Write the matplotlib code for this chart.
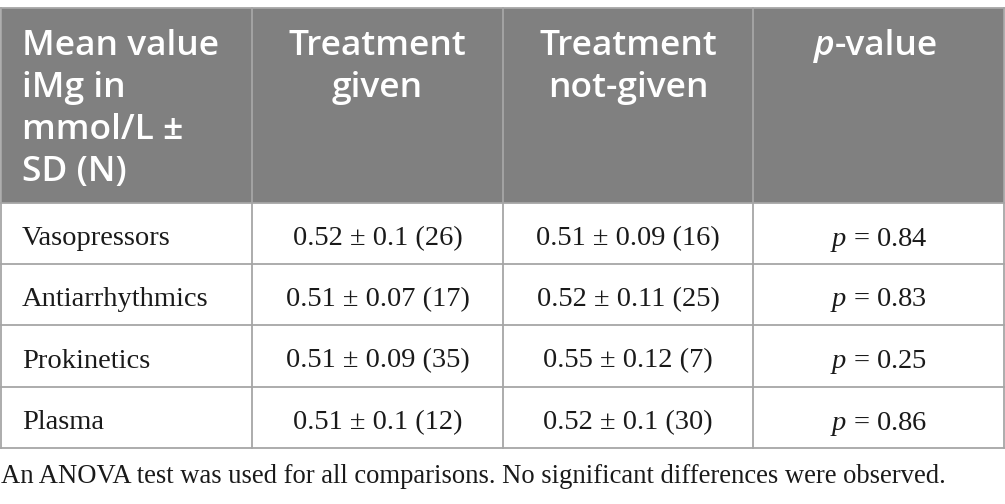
import matplotlib.pyplot as plt
from matplotlib.lines import Line2D

plt.rcParams["mathtext.fontset"] = "custom"
plt.rcParams["mathtext.it"] = "Liberation Serif:italic"
plt.rcParams["mathtext.rm"] = "Liberation Serif"

headers = [["Mean value", "iMg in", "mmol/L \u00b1", "SD (N)"],
           ["Treatment", "given"],
           ["Treatment", "not-given"]]
drugs = ["Vasopressors", "Antiarrhythmics", "Prokinetics", "Plasma"]
given = ["0.52 \u00b1 0.1 (26)", "0.51 \u00b1 0.07 (17)", "0.51 \u00b1 0.09 (35)", "0.51 \u00b1 0.1 (12)"]
not_given = ["0.51 \u00b1 0.09 (16)", "0.52 \u00b1 0.11 (25)", "0.55 \u00b1 0.12 (7)", "0.52 \u00b1 0.1 (30)"]
p_values = [0.84, 0.83, 0.25, 0.86]
footnote = "An ANOVA test was used for all comparisons. No significant differences were observed."

W, H = 1005, 504
fig = plt.figure(figsize=(W / 100, H / 100), dpi=100)
ax = fig.add_axes([0, 0, 1, 1])
ax.set_xlim(0, W)
ax.set_ylim(H, 0)
ax.axis("off")

col_x = [1, 252, 503, 753, 1004]
row_y = [8, 203, 264, 325, 387, 448]
grid_c = "#a6a6a6"
head_bg = "#808080"

# header background
ax.add_patch(plt.Rectangle((col_x[0], row_y[0]), col_x[-1] - col_x[0], row_y[1] - row_y[0],
                           facecolor=head_bg, edgecolor="none"))

# grid lines
for y in row_y:
    ax.add_line(Line2D([col_x[0], col_x[-1]], [y, y], color=grid_c, lw=1.3))
for x in col_x:
    ax.add_line(Line2D([x, x], [row_y[0], row_y[-1]], color=grid_c, lw=1.3))

hfont = dict(family="Open Sans", weight="semibold", size=25.5, color="white")
base0, step = 55, 42
for k, line in enumerate(headers[0]):
    ax.text(22, base0 + k * step, line, ha="left", va="baseline", **hfont)
for j in (1, 2):
    cx = (col_x[j] + col_x[j + 1]) / 2
    for k, line in enumerate(headers[j]):
        ax.text(cx, base0 + k * step, line, ha="center", va="baseline", **hfont)
# p-value header: italic p + regular rest
ax.text(835, base0, "p", ha="right", va="baseline", style="italic", **hfont)
ax.text(835, base0, "-value", ha="left", va="baseline", **hfont)

bfont = dict(family="Liberation Serif", size=20.5, color="#1a1a1a")
for i in range(len(drugs)):
    cy = (row_y[i + 1] + row_y[i + 2]) / 2 + 2
    ax.text(22, cy, drugs[i], ha="left", va="center_baseline", **bfont)
    ax.text((col_x[1] + col_x[2]) / 2, cy, given[i], ha="center", va="center_baseline", **bfont)
    ax.text((col_x[2] + col_x[3]) / 2, cy, not_given[i], ha="center", va="center_baseline", **bfont)
    ax.text((col_x[3] + col_x[4]) / 2, cy, "$p$ = %.2f" % p_values[i], ha="center",
            va="center_baseline", **bfont)

ax.text(1, 483, footnote, ha="left", va="baseline", family="Liberation Serif", size=19.2,
        color="#1a1a1a")

fig.savefig("out.png", dpi=100)
